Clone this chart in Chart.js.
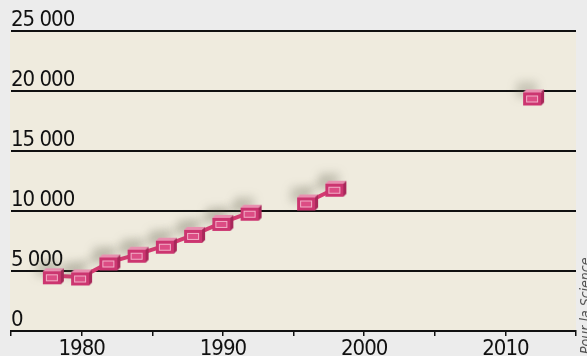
<!DOCTYPE html>
<html>
<head>
<meta charset="utf-8">
<script src="https://cdn.jsdelivr.net/npm/chart.js@4/dist/chart.umd.min.js"></script>
<style>
body{margin:0;background:#ececec;}
#wrap{width:587px;height:356px;}
</style>
</head>
<body>
<div id="wrap"><canvas id="chart" width="587" height="356"></canvas></div>
<script>
// data (null = gap in the line)
const years=[1978,1980,1982,1984,1986,1988,1990,1992,1994,1996,1998,2005,2012]
const values=[4600,4500,5750,6400,7150,8050,9050,9900,null,10750,11900,null,19500]
const xLabels=[1980,1990,2000,2010]
const credit="Pour la Science"

const FONT="'DejaVu Sans Condensed','Liberation Sans',sans-serif"

// little pink box used as the marker
function makeBox(){
const c=document.createElement("canvas")
c.width=23
c.height=19
const g=c.getContext("2d")
g.fillStyle="#e890b0"
g.beginPath()
g.moveTo(1,5);g.lineTo(4,2);g.lineTo(22,2);g.lineTo(19,5);g.closePath();g.fill()
g.fillStyle="#a8285a"
g.beginPath()
g.moveTo(19,5);g.lineTo(22,2);g.lineTo(22,15);g.lineTo(19,18);g.closePath();g.fill()
g.fillStyle="#cc3570"
g.fillRect(1,5,18,13)
g.fillStyle="#dc4c84"
g.fillRect(4,8,12,7)
g.strokeStyle="#f3b0c8"
g.lineWidth=1
g.strokeRect(4.5,8.5,11,6)
return c
}

const points=years.map((y,i)=>({x:y,y:values[i]}))

const bgPlugin={
id:"bg",
beforeDraw(chart){
const {ctx,chartArea:a}=chart
ctx.letterSpacing="-1px"
ctx.save()
ctx.fillStyle="#efebde"
ctx.fillRect(a.left-1,a.top,a.right-a.left+1,a.bottom-a.top)
ctx.restore()
},
beforeDatasetsDraw(chart){
const ctx=chart.ctx
ctx.save()
ctx.shadowColor="rgba(90,90,70,0.25)"
ctx.shadowBlur=8
ctx.shadowOffsetX=-7
ctx.shadowOffsetY=-8
},
afterDatasetsDraw(chart){
chart.ctx.restore()
},
afterDraw(chart){
const ctx=chart.ctx
ctx.save()
ctx.letterSpacing="0px"
ctx.translate(590,356)
ctx.rotate(-Math.PI/2)
ctx.font="italic 14px "+FONT
ctx.fillStyle="#555"
ctx.textAlign="left"
ctx.textBaseline="alphabetic"
ctx.fillText(credit,2,0)
ctx.restore()
}
}

new Chart(document.getElementById("chart"),{
type:"line",
data:{
datasets:[{
data:points,
borderColor:"#d63a72",
borderWidth:4,
pointStyle:makeBox(),
pointRadius:9,
spanGaps:false,
tension:0
}]
},
options:{
responsive:false,
animation:false,
layout:{autoPadding:false,padding:{left:11,right:11,top:31,bottom:0}},
plugins:{legend:{display:false},tooltip:{enabled:false}},
scales:{
x:{
type:"linear",
min:1975,
max:2015,
afterFit(s){s.height=25},
ticks:{
stepSize:5,
autoSkip:false,
maxRotation:0,
padding:0,
color:"#111",
font:{family:FONT,size:22},
callback:v=>xLabels.includes(v)?String(v):""
},
grid:{drawOnChartArea:false,drawTicks:true,tickLength:5,color:"#111",lineWidth:1.5},
border:{display:true,color:"#111",width:2}
},
y:{
min:0,
max:25000,
afterFit(s){s.width=0},
ticks:{
stepSize:5000,
mirror:true,
padding:0,
labelOffset:-11,
color:"#111",
font:{family:FONT,size:22},
callback:v=>v===0?"0":(v/1000)+" 000"
},
grid:{color:"#111",lineWidth:2,drawTicks:false},
border:{display:false}
}
}
},
plugins:[bgPlugin]
})
</script>
</body>
</html>
